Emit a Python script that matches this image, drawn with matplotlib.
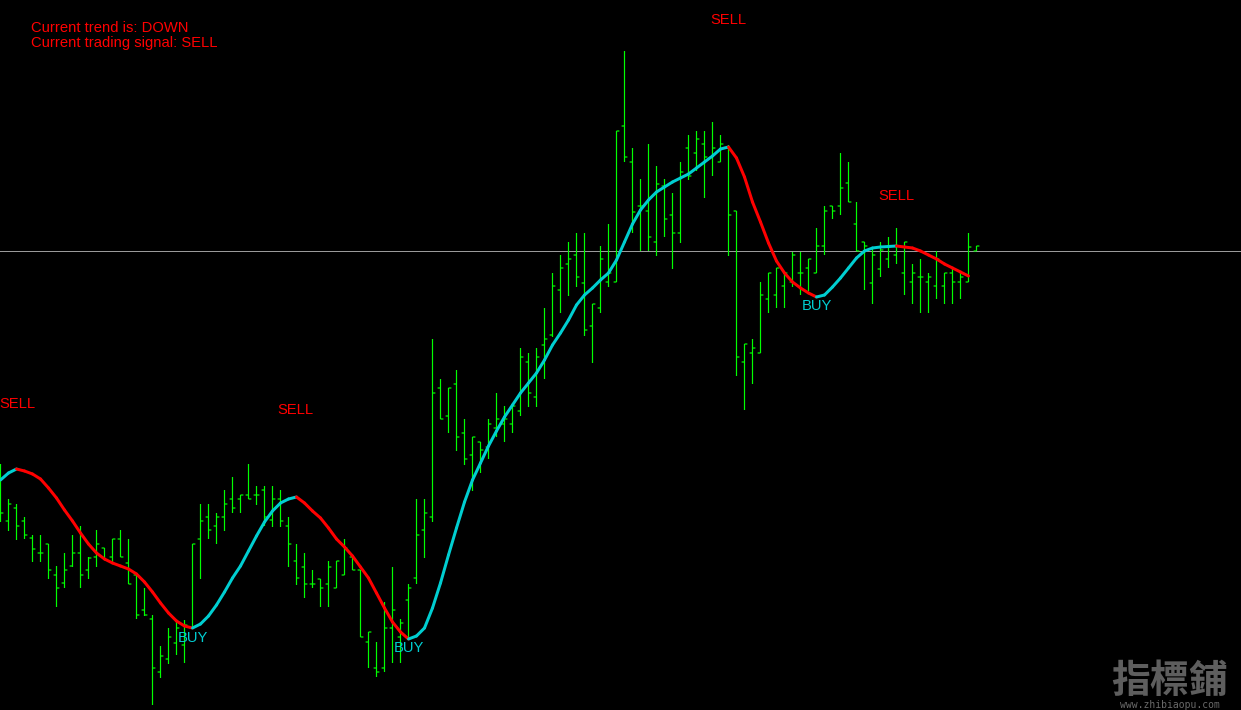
import matplotlib
matplotlib.use("Agg")
import matplotlib.pyplot as plt
import numpy as np
from matplotlib.collections import LineCollection

# ---- data (price units, arbitrary scale) ----
highs = [246, 211, 206, 193, 175, 175, 166, 144, 157, 175, 184, 153, 180, 162, 171, 180, 171, 135, 122, 95,
         64, 82, 88, 90, 166, 206, 206, 197, 220, 233, 215, 246, 224, 224, 224, 220, 193, 166, 157, 140,
         131, 149, 149, 171, 153, 140, 78, 68, 108, 143, 91, 126, 211, 211, 371, 331, 322, 340, 291, 273,
         268, 291, 317, 304, 304, 362, 357, 362, 402, 437, 455, 468, 477, 477, 406, 464, 486, 579, 659, 562,
         531, 566, 544, 531, 517, 548, 575, 579, 579, 588, 575, 565, 499, 366, 371, 428, 437, 442, 437, 458,
         458, 451, 482, 504, 504, 557, 548, 508, 468, 463, 468, 473, 482, 468, 446, 451, 437, 459, 437, 442,
         437, 477, 464]
lows = [188, 179, 170, 171, 148, 148, 131, 103, 122, 143, 122, 131, 143, 150, 148, 153, 126, 91, 94, 5,
        32, 46, 55, 47, 82, 131, 171, 166, 179, 197, 197, 211, 205, 184, 183, 183, 143, 125, 112, 122,
        103, 103, 122, 135, 140, 73, 42, 33, 38, 47, 47, 70, 126, 152, 188, 291, 277, 259, 245, 219,
        237, 251, 273, 268, 277, 294, 303, 303, 331, 373, 397, 414, 423, 374, 347, 397, 423, 428, 548, 477,
        459, 459, 454, 473, 441, 467, 530, 539, 512, 534, 548, 454, 334, 300, 326, 357, 397, 402, 402, 423,
        415, 419, 437, 455, 491, 495, 508, 459, 420, 406, 433, 442, 446, 415, 406, 397, 397, 411, 406, 406,
        411, 428, 459]
opens = [220, 189, 202, 189, 172, 157, 166, 135, 127, 144, 157, 140, 153, 162, 153, 171, 147, 135, 100, 91,
         38, 51, 67, 65, 82, 171, 193, 184, 193, 211, 211, 215, 215, 220, 190, 211, 184, 149, 143, 126,
         131, 126, 122, 135, 153, 140, 68, 42, 42, 82, 73, 110, 132, 180, 193, 322, 294, 326, 277, 255,
         268, 263, 282, 286, 286, 299, 348, 313, 365, 375, 420, 446, 455, 427, 384, 402, 428, 428, 584, 548,
         504, 499, 468, 524, 495, 477, 562, 557, 566, 553, 548, 562, 499, 348, 357, 357, 411, 415, 424, 428,
         437, 442, 437, 464, 504, 504, 527, 486, 468, 427, 441, 451, 455, 437, 428, 433, 428, 424, 424, 437,
         428, 428, 459]
closes = [197, 206, 184, 175, 161, 157, 140, 122, 140, 157, 135, 152, 166, 150, 171, 153, 126, 95, 95, 42,
          54, 73, 82, 85, 166, 189, 180, 193, 206, 202, 215, 211, 215, 193, 211, 189, 166, 132, 126, 126,
          122, 143, 149, 162, 140, 73, 78, 38, 82, 100, 87, 122, 175, 197, 317, 291, 322, 273, 251, 273,
          260, 286, 291, 291, 304, 353, 317, 353, 371, 424, 442, 451, 433, 380, 406, 451, 437, 579, 553, 498,
          504, 473, 526, 491, 477, 538, 534, 571, 553, 562, 566, 495, 353, 366, 362, 415, 437, 442, 437, 455,
          437, 451, 464, 499, 499, 522, 508, 459, 464, 455, 460, 464, 464, 468, 437, 433, 433, 451, 437, 428,
          433, 463, 464]
trend = [230, 237, 241, 239, 236, 231, 222, 212, 200, 189, 177, 166, 157, 151, 147, 144, 141, 136, 128, 118,
         107, 97, 89, 84, 82, 86, 94, 105, 118, 132, 144, 159, 174, 188, 199, 207, 211, 213, 207, 199,
         192, 182, 171, 163, 154, 143, 132, 117, 102, 88, 78, 71, 74, 82, 102, 127, 155, 182, 208, 230,
         247, 264, 279, 293, 305, 317, 327, 337, 350, 365, 377, 390, 405, 415, 422, 430, 437, 450, 468, 486,
         500, 510, 518, 523, 528, 532, 536, 542, 548, 554, 561, 563, 552, 533, 508, 488, 467, 449, 437, 428,
         422, 417, 413, 415, 423, 432, 442, 452, 459, 462, 463, 463.5, 464, 463, 462, 459, 455, 451, 446, 442,
         438, 434]
reference_level = 459

signal_index = [2.06, 36.9, 91.0, 112.0, 24.0, 51.0, 102.0]
signal_text = ["SELL", "SELL", "SELL", "SELL", "BUY", "BUY", "BUY"]
signal_level = [305.5, 300.5, 689.5, 514.5, 72.5, 61.5, 403.5]

status_lines = ["Current trend is: DOWN", "Current trading signal: SELL"]

# ---- figure ----
W, H, DPI = 1241, 710, 100
fig = plt.figure(figsize=(W / DPI, H / DPI), dpi=DPI, facecolor="black")
ax = fig.add_axes([0, 0, 1, 1])
ax.set_facecolor("black")
ax.set_xlim(-0.0625, (W - 0.5) / 8)
ax.set_ylim(0, H)
ax.axis("off")

GREEN = "#00ff00"
CYAN = "#00ced1"
RED = "#ff0000"
px = 72 / DPI

idx = np.arange(len(highs))
ax.axhline(reference_level, color="#9a9a9a", lw=px, zorder=1)
ax.vlines(idx, lows, highs, colors=GREEN, lw=1.2 * px, zorder=2, snap=False)
ax.hlines(opens, idx - 0.36, idx, colors=GREEN, lw=1.2 * px, zorder=2, snap=False)
ax.hlines(closes, idx, idx + 0.36, colors=GREEN, lw=1.2 * px, zorder=2, snap=False)

t = np.array(trend, dtype=float)
ti = np.arange(len(t))
segs = [[(ti[k], t[k]), (ti[k + 1], t[k + 1])] for k in range(len(t) - 1)]
cols = [CYAN if t[k + 1] >= t[k] else RED for k in range(len(t) - 1)]
lc = LineCollection(segs, colors=cols, linewidths=3.0 * px, capstyle="round", joinstyle="round", zorder=3)
ax.add_collection(lc)

font = "Liberation Sans"
for xi, txt, lvl in zip(signal_index, signal_text, signal_level):
    ax.text(xi, lvl, txt, color=RED if txt == "SELL" else CYAN, fontsize=10.6,
            family=font, ha="center", va="center", zorder=4)

for k, line in enumerate(status_lines):
    fig.text(31 / W, 1 - (27.5 + 16 * k) / H, line, color=RED, fontsize=10.6,
             family=font, ha="left", va="center")

fig.text(1170 / W, 1 - 681 / H, "指標鋪", color="#5e5e5e", fontsize=28,
         family=["Noto Sans CJK TC", "DejaVu Sans"], fontweight="bold", ha="center", va="center")
fig.text(1170 / W, 1 - 705.5 / H, "www.zhibiaopu.com", color="#6a6a6a", fontsize=7.0,
         family="DejaVu Sans Mono", ha="center", va="center")

fig.savefig("out.png", dpi=DPI, facecolor="black")
